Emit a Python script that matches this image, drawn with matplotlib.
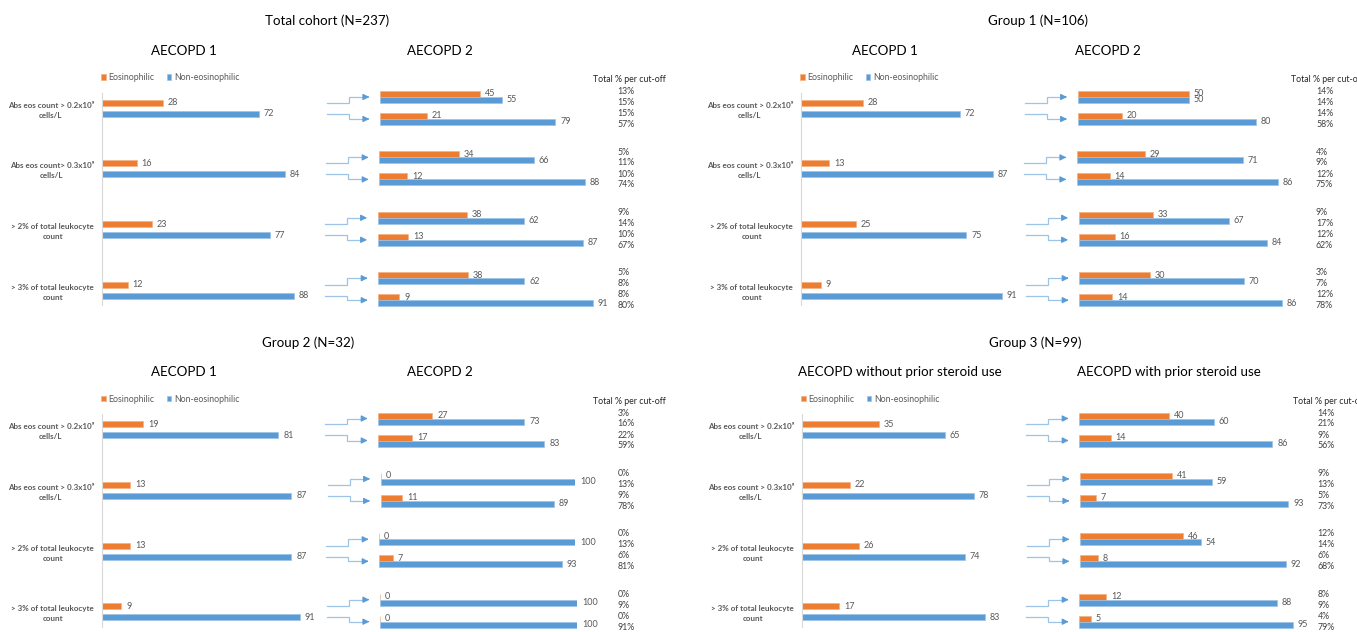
import numpy as np
import matplotlib
matplotlib.use("Agg")
import matplotlib.pyplot as plt

plt.rcParams['font.family'] = ['Lato', 'DejaVu Sans']

W, H = 1357, 632

ORANGE = '#ED7D31'
BLUE = '#5B9BD5'
GREY = '#595959'

# ---- data ----
cut_labels = ["Abs eos count > 0.2x10\u2079\ncells/L",
              "Abs eos count > 0.3x10\u2079\ncells/L",
              "> 2% of total leukocyte\ncount",
              "> 3% of total leukocyte\ncount"]
cut_labels_tc = ["Abs eos count > 0.2x10\u2079\ncells/L",
                 "Abs eos count> 0.3x10\u2079\ncells/L",
                 "> 2% of total leukocyte\ncount",
                 "> 3% of total leukocyte\ncount"]

tc_a1_eos = [28, 16, 23, 12]
tc_a1_non = [72, 84, 77, 88]
tc_a2_eos = [45, 21, 34, 12, 38, 13, 38, 9]
tc_a2_non = [55, 79, 66, 88, 62, 87, 62, 91]
tc_pct = [("13%", "15%"), ("15%", "57%"), ("5%", "11%"), ("10%", "74%"),
          ("9%", "14%"), ("10%", "67%"), ("5%", "8%"), ("8%", "80%")]

g1_a1_eos = [28, 13, 25, 9]
g1_a1_non = [72, 87, 75, 91]
g1_a2_eos = [50, 20, 29, 14, 33, 16, 30, 14]
g1_a2_non = [50, 80, 71, 86, 67, 84, 70, 86]
g1_pct = [("14%", "14%"), ("14%", "58%"), ("4%", "9%"), ("12%", "75%"),
          ("9%", "17%"), ("12%", "62%"), ("3%", "7%"), ("12%", "78%")]

g2_a1_eos = [19, 13, 13, 9]
g2_a1_non = [81, 87, 87, 91]
g2_a2_eos = [27, 17, 0, 11, 0, 7, 0, 0]
g2_a2_non = [73, 83, 100, 89, 100, 93, 100, 100]
g2_pct = [("3%", "16%"), ("22%", "59%"), ("0%", "13%"), ("9%", "78%"),
          ("0%", "13%"), ("6%", "81%"), ("0%", "9%"), ("0%", "91%")]

g3_a1_eos = [35, 22, 26, 17]
g3_a1_non = [65, 78, 74, 83]
g3_a2_eos = [40, 14, 41, 7, 46, 8, 12, 5]
g3_a2_non = [60, 86, 59, 93, 54, 92, 88, 95]
g3_pct = [("14%", "21%"), ("9%", "56%"), ("9%", "13%"), ("5%", "73%"),
          ("12%", "14%"), ("6%", "68%"), ("8%", "9%"), ("4%", "79%")]

panels = [
    dict(title="Total cohort (N=237)", tx=327, sub1="AECOPD 1", s1x=184, sub2="AECOPD 2", s2x=440,
         oy=0, labels=cut_labels_tc, a1e=tc_a1_eos, a1n=tc_a1_non, a2e=tc_a2_eos, a2n=tc_a2_non, pct=tc_pct,
         a1x=101.7, a1s=2.18, a2x=[380, 379.3, 377.7, 378.3], a2s=[2.22, 2.34, 2.355, 2.355],
         pctx=617.7, hdrx=592.7),
    dict(title="Group 1 (N=106)", tx=1038, sub1="AECOPD 1", s1x=885, sub2="AECOPD 2", s2x=1108,
         oy=0, labels=cut_labels, a1e=g1_a1_eos, a1n=g1_a1_non, a2e=g1_a2_eos, a2n=g1_a2_non, pct=g1_pct,
         a1x=800.7, a1s=2.21, a2x=[1077.7, 1077, 1078.7, 1079.3], a2s=[2.225, 2.335, 2.24, 2.355],
         pctx=1316, hdrx=1291),
    dict(title="Group 2 (N=32)", tx=308, sub1="AECOPD 1", s1x=184, sub2="AECOPD 2", s2x=440,
         oy=321.5, labels=cut_labels, a1e=g2_a1_eos, a1n=g2_a1_non, a2e=g2_a2_eos, a2n=g2_a2_non, pct=g2_pct,
         a1x=101.7, a1s=2.18, a2x=[378.3, 380.7, 379.3, 380], a2s=[2.0, 1.945, 1.96, 1.97],
         pctx=617.7, hdrx=592.7),
    dict(title="Group 3 (N=99)", tx=1035, sub1="AECOPD without prior steroid use", s1x=900,
         sub2="AECOPD with prior steroid use", s2x=1169,
         oy=321.5, labels=cut_labels, a1e=g3_a1_eos, a1n=g3_a1_non, a2e=g3_a2_eos, a2n=g3_a2_non, pct=g3_pct,
         a1x=801.7, a1s=2.205, a2x=[1079.3, 1080, 1080, 1079.3], a2s=[2.245, 2.24, 2.24, 2.245],
         pctx=1317.7, hdrx=1292.7),
]

fig = plt.figure(figsize=(W / 100, H / 100), dpi=100)

# overlay in pixel coordinates for titles, arrows and side texts
ov = fig.add_axes([0, 0, 1, 1])
ov.set_xlim(0, W)
ov.set_ylim(H, 0)
ov.axis('off')


def add_px_axes(x, ytop, w, h):
    ax = fig.add_axes([x / W, 1 - (ytop + h) / H, w / W, h / H])
    ax.patch.set_visible(False)
    return ax


CAT_STEP = 60.7      # px between cut-offs
A1_TOP = 92.7
A1_FIRST = 108.2
A1_BOTTOM = 305.0
A2_FIRST = 97.0
A2_STEP = 60.4
A2_PAIR = 22.0

for p in panels:
    oy = p['oy']
    ov.text(p['tx'], 21 + oy, p['title'], ha='center', va='center', fontsize=9.6, color='black')
    ov.text(p['s1x'], 50.7 + oy, p['sub1'], ha='center', va='center', fontsize=9.6, color='black')
    ov.text(p['s2x'], 50.7 + oy, p['sub2'], ha='center', va='center', fontsize=9.6, color='black')

    # AECOPD 1 chart
    top = A1_TOP + oy
    h = A1_BOTTOM - A1_TOP
    ax1 = add_px_axes(p['a1x'], top, 100 * p['a1s'], h)
    y = np.arange(4)
    off = 5.5 / CAT_STEP
    bh = 6 / CAT_STEP
    b1 = ax1.barh(y - off, p['a1e'], height=bh, color=ORANGE, edgecolor='#F4B183', linewidth=0.5,
                  label='Eosinophilic')
    b2 = ax1.barh(y + off, p['a1n'], height=bh, color=BLUE, edgecolor='#9DC3E6', linewidth=0.5,
                  label='Non-eosinophilic')
    ax1.bar_label(b1, padding=3.5, fontsize=6.5, color=GREY)
    ax1.bar_label(b2, padding=3.5, fontsize=6.5, color=GREY)
    ax1.set_xlim(0, 100)
    ax1.set_ylim(3 + (A1_BOTTOM - A1_FIRST - 3 * CAT_STEP) / CAT_STEP, -(A1_FIRST - A1_TOP) / CAT_STEP)
    ax1.set_yticks(y)
    ax1.set_yticklabels(p['labels'], fontsize=5.8, fontweight='bold', color=GREY,
                        multialignment='center', linespacing=1.5)
    ax1.tick_params(axis='y', length=0, pad=5.5)
    ax1.set_xticks([])
    for s in ['top', 'right', 'bottom']:
        ax1.spines[s].set_visible(False)
    ax1.spines['left'].set_color('#D9D9D9')
    ax1.spines['left'].set_linewidth(0.8)
    ax1.legend(loc='center left', bbox_to_anchor=(p['a1x'] - 1, 77.5 + oy),
               bbox_transform=ov.transData, ncol=2, frameon=False, fontsize=6.3,
               handlelength=0.55, handleheight=0.55, handletextpad=0.3, columnspacing=1.4,
               borderpad=0, borderaxespad=0, labelcolor=GREY)

    # AECOPD 2 charts, one per cut-off
    ov.text(p['hdrx'], 79.5 + oy, "Total % per cut-off", ha='left', va='center', fontsize=6.3, color='#262626')
    for k in range(4):
        c0 = A2_FIRST + A2_STEP * k + oy
        ax2 = add_px_axes(p['a2x'][k], c0 - A2_PAIR / 2, 100 * p['a2s'][k], 2 * A2_PAIR)
        yy = np.arange(2)
        o2 = 3 / A2_PAIR
        h2 = 6 / A2_PAIR
        e = p['a2e'][2 * k:2 * k + 2]
        n = p['a2n'][2 * k:2 * k + 2]
        c1 = ax2.barh(yy - o2, e, height=h2, color=ORANGE, edgecolor='#F4B183', linewidth=0.5)
        c2 = ax2.barh(yy + o2, n, height=h2, color=BLUE, edgecolor='#9DC3E6', linewidth=0.5)
        ax2.bar_label(c1, padding=3.5, fontsize=6.5, color=GREY)
        ax2.bar_label(c2, padding=3.5, fontsize=6.5, color=GREY)
        ax2.set_xlim(0, 100)
        ax2.set_ylim(1.5, -0.5)
        ax2.axis('off')

        # elbow arrows from AECOPD 1 bars to AECOPD 2 pairs
        cat_c = A1_FIRST + CAT_STEP * k + oy
        tip = p['a2x'][k] - 8
        for j, src in enumerate([cat_c - 5.5, cat_c + 5.5]):
            dst = c0 + A2_PAIR * j
            ov.plot([tip - 45, tip - 23, tip - 23, tip - 6], [src, src, dst, dst],
                    color='#9DC3E6', lw=0.9, solid_joinstyle='miter')
            ov.annotate('', xy=(tip, dst), xytext=(tip - 7, dst),
                        arrowprops=dict(arrowstyle='-|>,head_length=0.35,head_width=0.18',
                                        color=BLUE, lw=0.9))

            # side percentages
            a, b = p['pct'][2 * k + j]
            ov.text(p['pctx'], dst - 5.3, a, ha='left', va='center', fontsize=6.3, color='#404040')
            ov.text(p['pctx'], dst + 5.3, b, ha='left', va='center', fontsize=6.3, color='#404040')

fig.savefig('out.png', dpi=100)
